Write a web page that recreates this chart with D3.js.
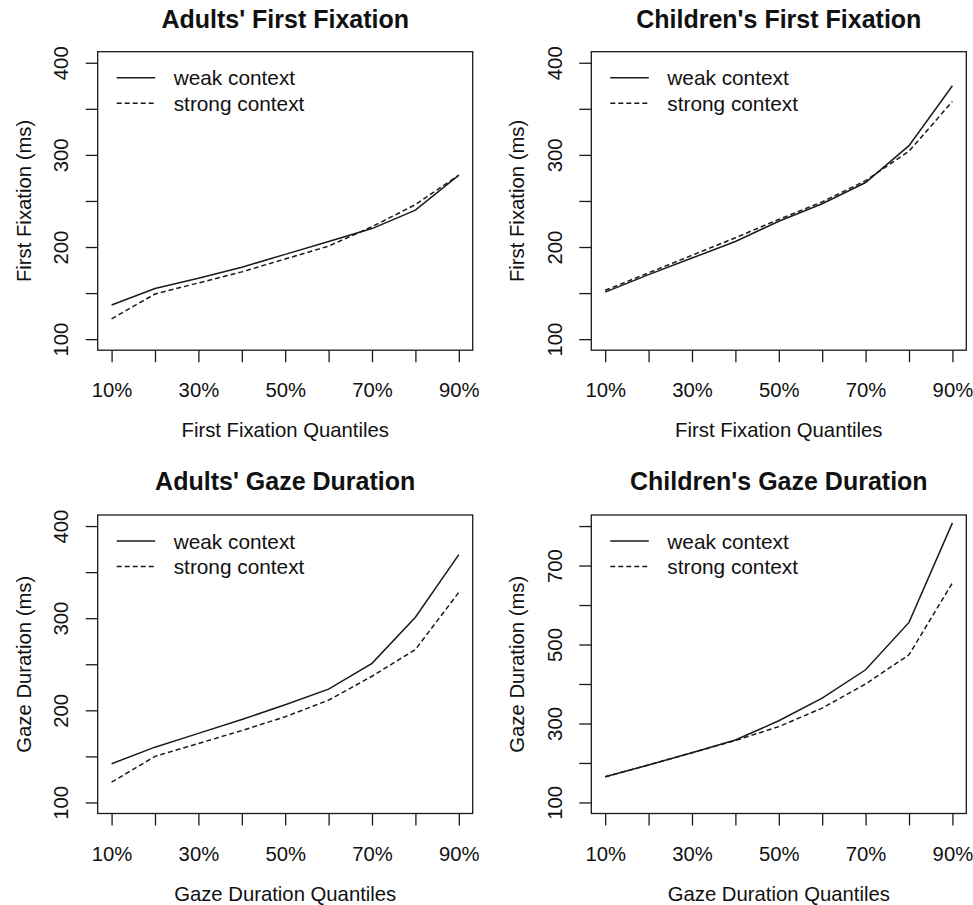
<!DOCTYPE html>
<html>
<head>
<meta charset="utf-8">
<script src="https://cdn.jsdelivr.net/npm/d3@7"></script>
<style>
  body { margin: 0; background: #fff; }
  text { font-family: "Liberation Sans", Arial, Helvetica, sans-serif; fill: #111; }
</style>
</head>
<body>
<div id="container"></div>
<script>
const WIDTH = 973;
const HEIGHT = 905;

// quantiles on the x axis
const quantiles = [10, 20, 30, 40, 50, 60, 70, 80, 90];
const quantileLabels = ['10%', '30%', '50%', '70%', '90%'];

const seriesNames = ['weak context', 'strong context'];

// values (ms)
const adultsFFWeak = [137, 155, 166, 178, 192, 206, 220, 240, 278];
const adultsFFStrong = [122, 149, 161, 173, 187, 201, 222, 246, 278];
const childrenFFWeak = [151, 170, 188, 206, 228, 247, 270, 310, 375];
const childrenFFStrong = [153, 172, 191, 210, 230, 249, 272, 304, 358];
const adultsGDWeak = [142, 160, 175, 190, 206, 223, 251, 301, 369];
const adultsGDStrong = [122, 150, 164, 178, 193, 211, 237, 266, 328];
const childrenGDWeak = [165, 195, 226, 258, 307, 364, 436, 556, 808];
const childrenGDStrong = [165, 195, 226, 257, 292, 339, 400, 474, 656];

const titles = ["Adults' First Fixation", "Children's First Fixation",
                "Adults' Gaze Duration", "Children's Gaze Duration"];
const yLabels = ['First Fixation (ms)', 'First Fixation (ms)',
                 'Gaze Duration (ms)', 'Gaze Duration (ms)'];
const xLabels = ['First Fixation Quantiles', 'First Fixation Quantiles',
                 'Gaze Duration Quantiles', 'Gaze Duration Quantiles'];
const yLimits = [[100, 400], [100, 400], [100, 400], [100, 800]];
const yTickStep = [50, 50, 50, 100];
const yLabelStep = [100, 100, 100, 200];

const panels = [
  { weak: adultsFFWeak, strong: adultsFFStrong },
  { weak: childrenFFWeak, strong: childrenFFStrong },
  { weak: adultsGDWeak, strong: adultsGDStrong },
  { weak: childrenGDWeak, strong: childrenGDStrong }
];

const COLS = [97.7, 591.3];
const ROWS = [51.7, 515];
const BOX_W = 375;
const BOX_H = 298.5;
const TICK = 12;
const INK = '#1a1a1a';

const svg = d3.select('#container')
  .append('svg')
  .attr('width', WIDTH)
  .attr('height', HEIGHT);

svg.append('rect').attr('width', WIDTH).attr('height', HEIGHT).attr('fill', '#fff');

// R style axis limits: 4% extension each side
function padded(lo, hi) {
  const e = (hi - lo) * 0.04;
  return [lo - e, hi + e];
}

panels.forEach((p, i) => {
  const left = COLS[i % 2];
  const top = ROWS[Math.floor(i / 2)];

  const g = svg.append('g')
    .attr('transform', `translate(${left}, ${top})`);

  const x = d3.scaleLinear()
    .domain(padded(10, 90))
    .range([0, BOX_W]);

  const [ylo, yhi] = yLimits[i];
  const y = d3.scaleLinear()
    .domain(padded(ylo, yhi))
    .range([BOX_H, 0]);

  const yTicks = d3.range(ylo, yhi + 1, yTickStep[i]);

  // x axis
  const xAxis = d3.axisBottom(x)
    .tickValues(quantiles)
    .tickSize(TICK)
    .tickFormat(d => quantileLabels.includes(d + '%') ? d + '%' : '');

  const gx = g.append('g')
    .attr('transform', `translate(0, ${BOX_H})`)
    .call(xAxis);
  gx.select('.domain').remove();
  gx.selectAll('line').attr('stroke', INK).attr('stroke-width', 1.3);
  gx.selectAll('text')
    .attr('font-size', 20.3)
    .attr('fill', '#111')
    .attr('dy', null)
    .attr('y', 40)
    .attr('dominant-baseline', 'central');

  // y axis
  const yAxis = d3.axisLeft(y)
    .tickValues(yTicks)
    .tickSize(TICK)
    .tickFormat(d => (d - ylo) % yLabelStep[i] === 0 ? d : '');

  const gy = g.append('g').call(yAxis);
  gy.select('.domain').remove();
  gy.selectAll('line').attr('stroke', INK).attr('stroke-width', 1.3);
  gy.selectAll('text')
    .attr('font-size', 20.3)
    .attr('fill', '#111')
    .attr('x', null)
    .attr('dy', null)
    .attr('text-anchor', 'middle')
    .attr('dominant-baseline', 'central')
    .attr('transform', 'translate(-36.5, 0) rotate(-90)');

  // box
  g.append('rect')
    .attr('width', BOX_W)
    .attr('height', BOX_H)
    .attr('fill', 'none')
    .attr('stroke', INK)
    .attr('stroke-width', 1.3);

  const line = d3.line()
    .x((d, k) => x(quantiles[k]))
    .y(d => y(d));

  g.append('path')
    .datum(p.weak)
    .attr('d', line)
    .attr('fill', 'none')
    .attr('stroke', INK)
    .attr('stroke-width', 1.5);

  g.append('path')
    .datum(p.strong)
    .attr('d', line)
    .attr('fill', 'none')
    .attr('stroke', INK)
    .attr('stroke-width', 1.5)
    .attr('stroke-dasharray', '5,3');

  // legend
  const legend = g.selectAll('.legend')
    .data(seriesNames)
    .enter()
    .append('g')
    .attr('class', 'legend')
    .attr('transform', (d, k) => `translate(19, ${26 + k * 25.5})`);

  legend.append('line')
    .attr('x1', 0)
    .attr('x2', 38.5)
    .attr('stroke', INK)
    .attr('stroke-width', 1.5)
    .attr('stroke-dasharray', (d, k) => k === 1 ? '5,3' : null);

  legend.append('text')
    .attr('x', 57)
    .attr('dominant-baseline', 'central')
    .attr('font-size', 20.8)
    .text(d => d);

  // titles
  g.append('text')
    .attr('x', BOX_W / 2)
    .attr('y', i < 2 ? -33 : -34)
    .attr('text-anchor', 'middle')
    .attr('dominant-baseline', 'central')
    .attr('font-size', 25)
    .attr('font-weight', 'bold')
    .text(titles[i]);

  g.append('text')
    .attr('x', BOX_W / 2)
    .attr('y', BOX_H + 80)
    .attr('text-anchor', 'middle')
    .attr('dominant-baseline', 'central')
    .attr('font-size', 20.3)
    .text(xLabels[i]);

  g.append('text')
    .attr('transform', `translate(-74, ${BOX_H / 2}) rotate(-90)`)
    .attr('text-anchor', 'middle')
    .attr('dominant-baseline', 'central')
    .attr('font-size', 20.3)
    .text(yLabels[i]);
});
</script>
</body>
</html>
